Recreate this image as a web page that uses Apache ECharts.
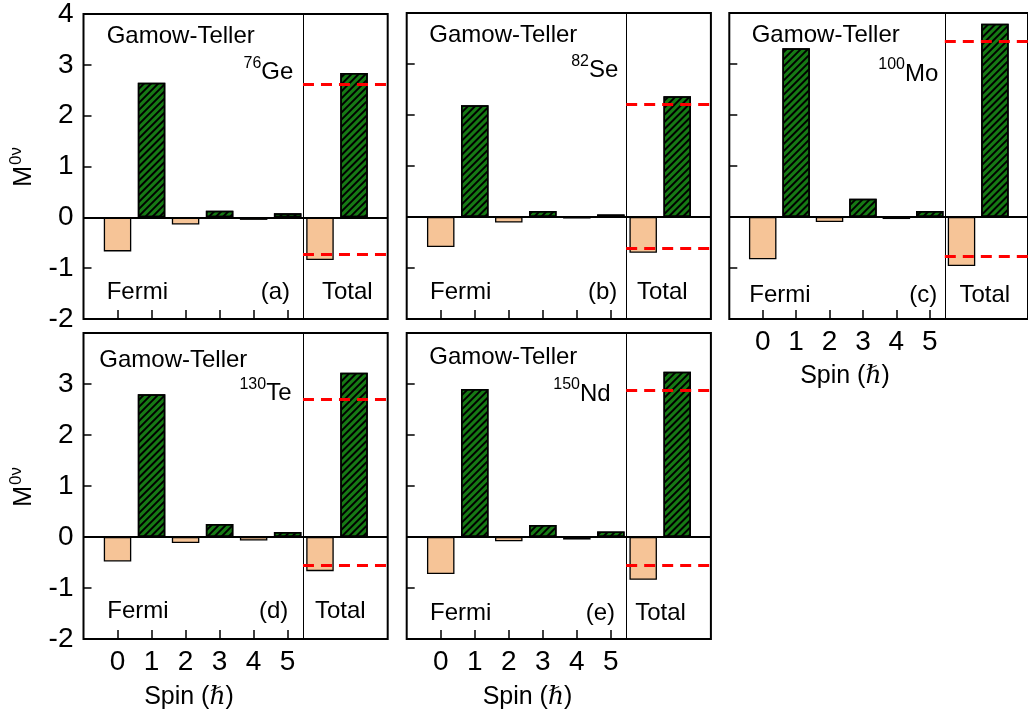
<!DOCTYPE html>
<html>
<head>
<meta charset="utf-8">
<script src="https://cdn.jsdelivr.net/npm/echarts@6/dist/echarts.min.js"></script>
<style>
html,body{margin:0;padding:0;background:#fff;}
#chart{width:1028px;height:719px;}
</style>
</head>
<body>
<div id="chart"></div>
<script>
// ---------- data ----------
const spins = [0, 1, 2, 3, 4, 5];
const spinTickLabels = ['0', '1', '2', '3', '4', '5'];
const yTicks = [-2, -1, 0, 1, 2, 3, 4];

// 76Ge (a)
const geFermi = [-0.67, null, -0.14, null, -0.05, null];
const geGT    = [null, 2.65, null, 0.13, null, 0.08];
const geTotal = [-0.84, 2.84];      // [Fermi total, Gamow-Teller total]
const geRef   = [2.615, -0.72];     // red dashed reference levels
// 82Se (b)
const seFermi = [-0.59, null, -0.11, null, -0.03, null];
const seGT    = [null, 2.19, null, 0.12, null, 0.05];
const seTotal = [-0.70, 2.37];
const seRef   = [2.22, -0.61];
// 100Mo (c)
const moFermi = [-0.83, null, -0.10, null, -0.04, null];
const moGT    = [null, 3.31, null, 0.36, null, 0.12];
const moTotal = [-0.96, 3.79];
const moRef   = [3.44, -0.76];
// 130Te (d)
const teFermi = [-0.48, null, -0.12, null, -0.07, null];
const teGT    = [null, 2.80, null, 0.255, null, 0.10];
const teTotal = [-0.67, 3.22];
const teRef   = [2.71, -0.555];
// 150Nd (e)
const ndFermi = [-0.725, null, -0.085, null, -0.05, null];
const ndGT    = [null, 2.90, null, 0.235, null, 0.11];
const ndTotal = [-0.84, 3.24];
const ndRef   = [2.87, -0.55];

// ---------- layout / style ----------
const FONT = '"Liberation Sans", Arial, Helvetica, sans-serif';
const X_MIN = -1, X_MAX = 7.94, DIVIDER = 5.45;
const TOTAL_POS = [5.95, 6.95];
const GRID_W = 304.2, GRID_H = 306;
const FERMI_COLOR = '#F6C497';
const GT_COLOR = '#167A14';

const panels = [
  {left: 83.5, top: 13, fermi: geFermi, gt: geGT, total: geTotal, ref: geRef, mass: '76', el: 'Ge', tag: '(a)',
   yLab: 'all', xLab: false, gtPos: [23.2, 23.4], isoPos: [209.8, 59.2], fermiPos: [23.2, 279.5], tagPos: [206.5, 279.5], totPos: [238.5, 279.5]},
  {left: 406.7, top: 13, fermi: seFermi, gt: seGT, total: seTotal, ref: seRef, mass: '82', el: 'Se', tag: '(b)',
   yLab: 'none', xLab: false, gtPos: [22.6, 22.5], isoPos: [211.6, 57.5], fermiPos: [23.3, 279.5], tagPos: [210.6, 279.5], totPos: [230.2, 279.5]},
  {left: 729.3, top: 13, fermi: moFermi, gt: moGT, total: moTotal, ref: moRef, mass: '100', el: 'Mo', tag: '(c)',
   yLab: 'none', xLab: true, gtPos: [22.4, 22.5], isoPos: [209, 61], fermiPos: [20, 282.5], tagPos: [208, 282.5], totPos: [230.1, 282.5],
   spinTitle: [845, 376]},
  {left: 83.5, top: 333, fermi: teFermi, gt: teGT, total: teTotal, ref: teRef, mass: '130', el: 'Te', tag: '(d)',
   yLab: 'no4', xLab: true, gtPos: [15.8, 27.7], isoPos: [208, 60.5], fermiPos: [23.8, 278.5], tagPos: [204.8, 278.5], totPos: [231.5, 278.5],
   spinTitle: [189, 697]},
  {left: 406.7, top: 333, fermi: ndFermi, gt: ndGT, total: ndTotal, ref: ndRef, mass: '150', el: 'Nd', tag: '(e)',
   yLab: 'none', xLab: true, gtPos: [22.6, 24.4], isoPos: [204, 61], fermiPos: [23.3, 280.2], tagPos: [208.3, 280.2], totPos: [228.5, 280.2],
   spinTitle: [527.5, 697]}
];

const mctx = document.createElement('canvas').getContext('2d');
function textWidth(t, size) { mctx.font = size + 'px ' + FONT; return mctx.measureText(t).width; }

const grids = [], xAxes = [], yAxes = [], series = [], graphics = [];

panels.forEach((p, i) => {
  grids.push({left: p.left, top: p.top, width: GRID_W, height: GRID_H, show: true,
    borderColor: '#000', borderWidth: 2, backgroundColor: 'transparent', containLabel: false});
  xAxes.push({type: 'value', gridIndex: i, min: X_MIN, max: X_MAX, interval: 1, position: 'bottom',
    axisLine: {show: false, onZero: false}, splitLine: {show: false},
    axisTick: {show: true, inside: true, length: 9, customValues: spins, lineStyle: {color: '#000', width: 1.5}},
    axisLabel: {show: p.xLab, customValues: spins, margin: 9, fontSize: 28, color: '#000', fontFamily: FONT,
      formatter: v => spinTickLabels[spins.indexOf(v)]}});
  yAxes.push({type: 'value', gridIndex: i, min: -2, max: 4, interval: 1, position: 'left',
    axisLine: {show: false, onZero: false}, splitLine: {show: false},
    axisTick: {show: true, inside: true, length: 8, lineStyle: {color: '#000', width: 1.5}},
    axisLabel: {show: p.yLab !== 'none', margin: 10, fontSize: 28, color: '#000', fontFamily: FONT,
      formatter: v => (p.yLab === 'no4' && v === 4) ? '' : String(v)}});

  const fermiData = spins.map((s, k) => [s, p.fermi[k]]).filter(d => d[1] !== null).concat([[TOTAL_POS[0], p.total[0]]]);
  const gtData = spins.map((s, k) => [s, p.gt[k]]).filter(d => d[1] !== null).concat([[TOTAL_POS[1], p.total[1]]]);

  series.push({type: 'bar', name: 'Fermi', xAxisIndex: i, yAxisIndex: i, data: fermiData,
    barWidth: 27.5, barGap: '-100%', z: 2, silent: true,
    itemStyle: {color: FERMI_COLOR, borderColor: '#000', borderWidth: 1.3}});
  series.push({type: 'bar', name: 'Gamow-Teller', xAxisIndex: i, yAxisIndex: i, data: gtData,
    barWidth: 27.5, barGap: '-100%', z: 2, silent: true,
    itemStyle: {color: GT_COLOR, borderColor: '#000', borderWidth: 1.5,
      decal: {symbol: 'rect', symbolSize: 1, color: '#000', dashArrayX: [1, 0], dashArrayY: [1.6, 2.6], rotation: -Math.PI / 4}}});
  series.push({type: 'line', xAxisIndex: i, yAxisIndex: i, data: [], z: 10, silent: true,
    markLine: {silent: true, symbol: ['none', 'none'], label: {show: false}, animation: false,
      data: [
        {yAxis: 0, lineStyle: {color: '#000', width: 2, type: 'solid'}},
        {xAxis: DIVIDER, lineStyle: {color: '#000', width: 1, type: 'solid'}},
        [{coord: [DIVIDER, p.ref[0]], lineStyle: {color: '#FF0000', width: 3, type: [11, 7]}}, {coord: [X_MAX, p.ref[0]]}],
        [{coord: [DIVIDER, p.ref[1]], lineStyle: {color: '#FF0000', width: 3, type: [11, 7]}}, {coord: [X_MAX, p.ref[1]]}]
      ]}});

  const T = (x, y, text, size, align) => ({type: 'text', x: x, y: y, silent: true,
    style: {text: text, fontSize: size, fontFamily: FONT, fill: '#000', align: align, verticalAlign: 'middle'}});
  graphics.push(T(p.left + p.gtPos[0], p.top + p.gtPos[1], 'Gamow-Teller', 24, 'left'));
  graphics.push(T(p.left + p.fermiPos[0], p.top + p.fermiPos[1], 'Fermi', 24, 'left'));
  graphics.push(T(p.left + p.tagPos[0], p.top + p.tagPos[1], p.tag, 24, 'right'));
  graphics.push(T(p.left + p.totPos[0], p.top + p.totPos[1], 'Total', 24, 'left'));
  const ix = p.left + p.isoPos[0], iy = p.top + p.isoPos[1];
  graphics.push(T(ix, iy, p.el, 24, 'right'));
  graphics.push(T(ix - textWidth(p.el, 24), iy - 9, p.mass, 16, 'right'));
  if (p.spinTitle) {
    graphics.push({type: 'text', x: p.spinTitle[0], y: p.spinTitle[1], silent: true,
      style: {text: 'Spin ({h|ℏ})', fontSize: 25, fontFamily: FONT, fill: '#000', align: 'center', verticalAlign: 'middle',
        rich: {h: {fontSize: 25, fontStyle: 'italic', fontFamily: '"Liberation Serif", "DejaVu Serif", serif', fill: '#000'}}}});
  }
  if (p.yLab !== 'none') {
    graphics.push({type: 'group', x: 24, y: p.top + GRID_H / 2, rotation: Math.PI / 2, silent: true, children: [
      {type: 'text', x: 0, y: 0, silent: true, style: {text: 'M', fontSize: 25, fontFamily: FONT, fill: '#000', align: 'right', verticalAlign: 'middle'}},
      {type: 'text', x: 1, y: -8, silent: true, style: {text: '0ν', fontSize: 17, fontFamily: FONT, fill: '#000', align: 'left', verticalAlign: 'middle'}}
    ]});
  }
});

const chart = echarts.init(document.getElementById('chart'), null, {renderer: 'canvas'});
chart.setOption({
  animation: false,
  backgroundColor: '#fff',
  grid: grids, xAxis: xAxes, yAxis: yAxes, series: series, graphic: graphics
});
</script>
</body>
</html>
